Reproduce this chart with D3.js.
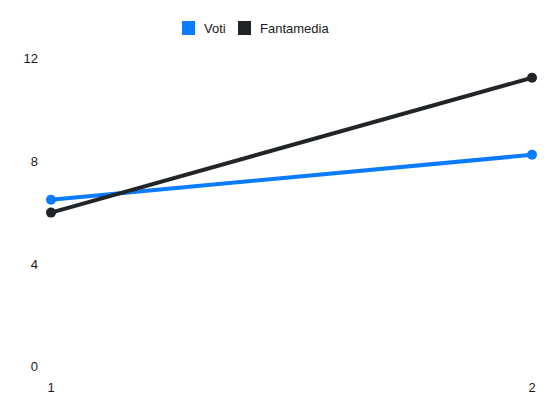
<!DOCTYPE html>
<html>
<head>
<meta charset="utf-8">
<script src="https://cdn.jsdelivr.net/npm/d3@7"></script>
<style>
  body { margin: 0; background: #fff; }
  text { font-family: "Liberation Sans", Arial, sans-serif; font-size: 13px; fill: #1a1a1a; }
</style>
</head>
<body>
<div id="chart"></div>
<script>
// giornate and series values
var giornate = [1, 2];
var voti = [6.5, 8.25];
var fantamedia = [6, 11.25];
var yTicks = [0, 4, 8, 12];

var series = [
  { name: "Voti", values: voti, color: "#0a7bff" },
  { name: "Fantamedia", values: fantamedia, color: "#212529" }
];

var width = 550, height = 412;
var svg = d3.select("#chart")
            .append("svg")
            .attr("width", width)
            .attr("height", height);

var x = d3.scalePoint()
          .domain(giornate)
          .range([51, 532]);
var y = d3.scaleLinear()
          .domain([0, 12])
          .range([366.7, 58.5]);

// y labels, no axis line or grid
svg.selectAll("ylab")
   .data(yTicks)
   .enter()
   .append("text")
   .attr("x", 38)
   .attr("y", function(d){ return y(d); })
   .attr("dy", "0.35em")
   .style("text-anchor", "end")
   .text(function(d){ return d; });

// x labels
svg.selectAll("xlab")
   .data(giornate)
   .enter()
   .append("text")
   .attr("x", function(d){ return x(d); })
   .attr("y", 387)
   .attr("dy", "0.35em")
   .style("text-anchor", "middle")
   .text(function(d){ return d; });

var line = d3.line()
             .x(function(d, i){ return x(giornate[i]); })
             .y(function(d){ return y(d); });

series.forEach(function(s){
  svg.append("path")
     .datum(s.values)
     .attr("d", line)
     .attr("fill", "none")
     .attr("stroke", s.color)
     .attr("stroke-width", 4);
  svg.selectAll("pt")
     .data(s.values)
     .enter()
     .append("circle")
     .attr("cx", function(d, i){ return x(giornate[i]); })
     .attr("cy", function(d){ return y(d); })
     .attr("r", 5)
     .style("fill", s.color);
});

// legend
var legendX = [182, 238];
var legend = svg.selectAll("legend")
                .data(series)
                .enter()
                .append("g")
                .attr("transform", function(d, i){ return "translate(" + legendX[i] + ",21)"; });
legend.append("rect")
      .attr("width", 13)
      .attr("height", 14)
      .style("fill", function(d){ return d.color; });
legend.append("text")
      .attr("x", 22)
      .attr("y", 7)
      .attr("dy", "0.35em")
      .text(function(d){ return d.name; });
</script>
</body>
</html>
